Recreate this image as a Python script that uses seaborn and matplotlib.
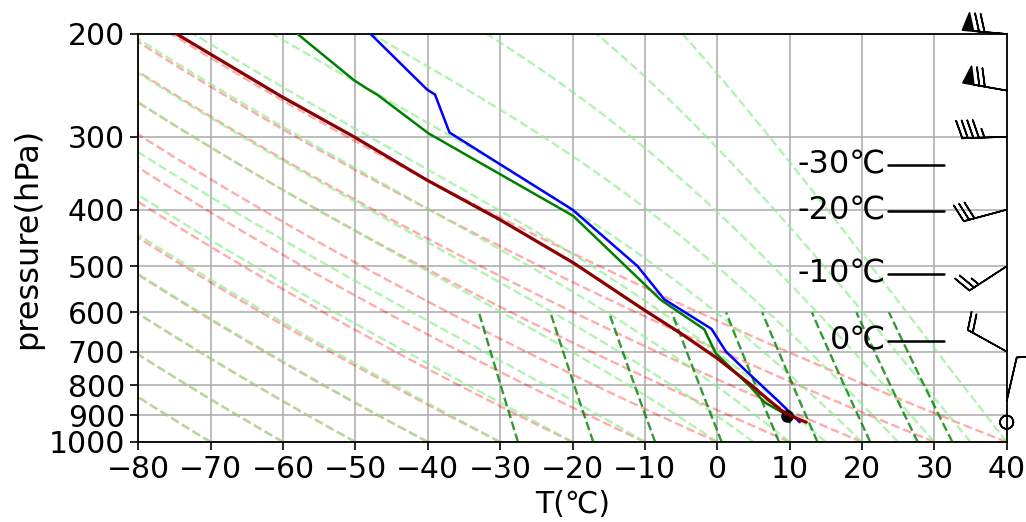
import numpy as np
import matplotlib
matplotlib.use("Agg")
import matplotlib.pyplot as plt
from matplotlib.ticker import ScalarFormatter, NullLocator
import seaborn as sns

# sounding (pressure in hPa, temperature in degC)
temp_p = [925, 850, 760, 700, 640, 570, 500, 400, 295, 254, 249, 200]
temp_t = [11.4, 8.4, 4.2, 1.2, -0.8, -7.3, -11.0, -20.0, -37.0, -39.0, -40.1, -47.9]

dewp_p = [925, 900, 855, 805, 705, 641, 571, 410, 296, 254, 249, 240, 200]
dewp_t = [10.0, 9.7, 6.5, 4.6, -0.2, -1.8, -7.8, -19.9, -39.9, -47.0, -48.2, -50.2, -58.0]

parcel_p = [925, 905, 882, 835, 799, 719, 652, 594, 494, 417, 356, 300, 256, 200]
parcel_t = [12.3, 10.4, 8.8, 6.5, 4.7, 0.0, -5.0, -10.1, -19.8, -29.9, -40.1, -50.2, -60.2, -74.7]

lcl_p = [903]
lcl_t = [9.7]

# isotherm heights marked on the right
iso_labels = ["-30℃", "-20℃", "-10℃", "0℃"]
iso_p = [335, 402, 515, 671]

# wind barbs at the right edge
barb_p = [200, 250, 300, 400, 500, 700, 850, 925]
barb_spd = [70, 70, 45, 30, 25, 20, 10, 0]
barb_dir = [275, 280, 268, 255, 237, 299, 13, 0]

# background reference lines
dry_theta = list(range(-70, 41, 10))      # degC at 1000 hPa
moist_t0 = [-70, -60, -50, -40, -30, -20, -10, 0, 5, 10, 15, 20, 25, 30, 35, 40]
mix_ratios = [0.0004, 0.001, 0.002, 0.004, 0.007, 0.01, 0.016, 0.024, 0.032]

Rd, Cp, Lv, eps = 287.04749, 1004.6662, 2.50084e6, 0.622


def sat_mr(p, t):
    es = 6.112 * np.exp(17.67 * (t - 273.15) / (t - 29.65))
    return eps * es / (p - es)


def moist_dtdp(p, t):
    rs = sat_mr(p, t)
    return (Rd * t + Lv * rs) / (Cp + Lv * Lv * rs * eps / (Rd * t * t)) / p


def moist_line(pres, t0):
    out = [t0 + 273.15]
    for i in range(len(pres) - 1):
        p0, h = pres[i], pres[i + 1] - pres[i]
        t = out[-1]
        k1 = moist_dtdp(p0, t)
        k2 = moist_dtdp(p0 + h / 2, t + h / 2 * k1)
        k3 = moist_dtdp(p0 + h / 2, t + h / 2 * k2)
        k4 = moist_dtdp(p0 + h, t + h * k3)
        out.append(t + h / 6 * (k1 + 2 * k2 + 2 * k3 + k4))
    return np.array(out) - 273.15


sns.set_style("ticks")
plt.rcParams['font.family'] = ['DejaVu Sans', 'Noto Sans CJK SC']
for key in ['text.color', 'axes.labelcolor', 'xtick.color', 'ytick.color']:
    plt.rcParams[key] = 'black'

fig, ax = plt.subplots(figsize=(10.26, 5.22), dpi=100)
fig.subplots_adjust(left=0.1348, right=0.9812, top=0.9349, bottom=0.1533)

pres = np.linspace(1000, 200, 161)
for th in dry_theta:
    ax.plot((th + 273.15) * (pres / 1000) ** 0.2857 - 273.15, pres,
            color='r', ls='--', lw=1.7, alpha=0.33, zorder=1)
for t0 in moist_t0:
    ax.plot(moist_line(pres, t0), pres, color='lightgreen', ls='--', lw=1.7, alpha=0.7, zorder=1)
pm = np.linspace(1000, 600, 41)
for w in mix_ratios:
    e = w * pm / (eps + w)
    lg = np.log(e / 6.112)
    ax.plot(243.5 * lg / (17.67 - lg), pm, color='g', ls='--', lw=1.7, alpha=0.8, zorder=1)

sns.lineplot(x=dewp_t, y=dewp_p, sort=False, color='green', lw=1.8, ax=ax, zorder=3)
sns.lineplot(x=temp_t, y=temp_p, sort=False, color='blue', lw=1.8, ax=ax, zorder=3)
ax.plot(lcl_t, lcl_p, 'o', color='black', ms=8, zorder=4)
sns.lineplot(x=parcel_t, y=parcel_p, sort=False, color='darkred', lw=2.3, ax=ax, zorder=5)

for lab, p in zip(iso_labels, iso_p):
    ax.plot([23.6, 31.3], [p, p], color='black', lw=1.8, zorder=6)
    ax.text(23.3, p, lab, ha='right', va='center', fontsize=23, zorder=6)

d = np.deg2rad(barb_dir)
u = -np.array(barb_spd) * np.sin(d)
v = -np.array(barb_spd) * np.cos(d)
ax.barbs(np.full(len(barb_p), 40.0), barb_p, u, v, length=8, lw=1.2, clip_on=False, zorder=7)

ax.set_yscale('log')
ax.set_ylim(1000, 200)
ax.set_xlim(-80, 40)
ax.set_xticks(range(-80, 41, 10))
ax.set_yticks(range(200, 1001, 100))
ax.yaxis.set_major_formatter(ScalarFormatter())
ax.yaxis.set_minor_locator(NullLocator())
ax.tick_params(labelsize=21.5, length=6, width=1.2)
ax.grid(True, color='#b0b0b0', lw=1.2)
for s in ax.spines.values():
    s.set_visible(True)
    s.set_color('black')
    s.set_linewidth(1.3)
ax.set_xlabel('T(℃)', fontsize=21.5)
ax.set_ylabel('pressure(hPa)', fontsize=23)

fig.savefig('out.png', dpi=100)
